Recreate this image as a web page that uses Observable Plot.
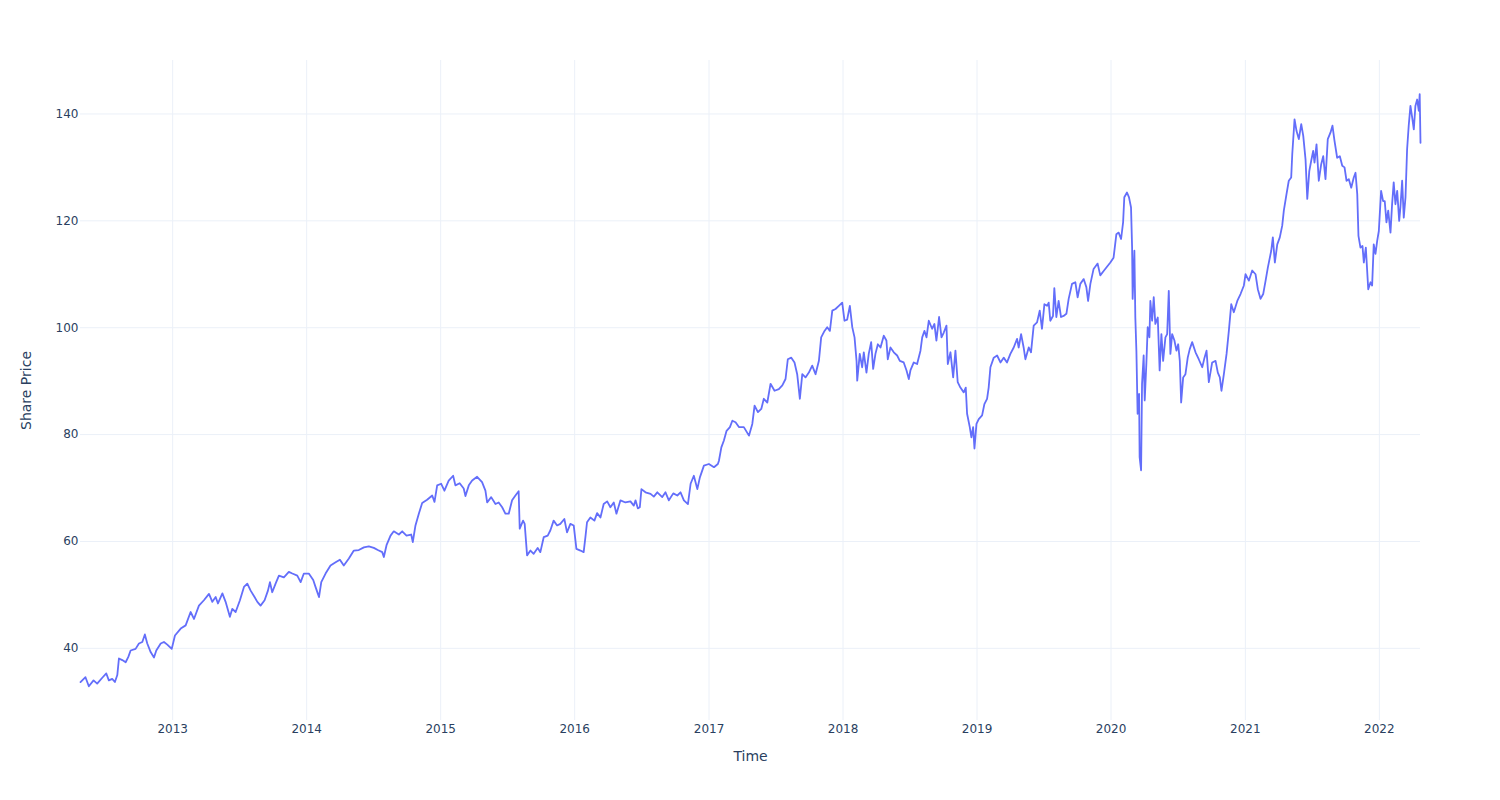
<!DOCTYPE html>
<html>
<head>
<meta charset="utf-8">
<script src="https://cdn.jsdelivr.net/npm/d3@7"></script>
<script src="https://cdn.jsdelivr.net/npm/@observablehq/plot@0.6"></script>
<style>
  html, body { margin: 0; padding: 0; background: #ffffff; }
  #chart { position: absolute; left: 0; top: 0; }
</style>
</head>
<body>
<div id="chart"></div>
<script>
// Time as decimal years
const times = [
  2012.314, 2012.351, 2012.376, 2012.411, 2012.438, 2012.476, 2012.506, 2012.525, 2012.550, 2012.570,
  2012.588, 2012.600, 2012.625, 2012.650, 2012.670, 2012.687, 2012.724, 2012.749, 2012.774, 2012.793,
  2012.811, 2012.836, 2012.861, 2012.878, 2012.911, 2012.935, 2012.960, 2012.993,
  2013.017, 2013.060, 2013.097, 2013.134, 2013.159, 2013.196, 2013.233, 2013.271, 2013.296, 2013.321,
  2013.338, 2013.371, 2013.395, 2013.427, 2013.445, 2013.470, 2013.502, 2013.532, 2013.557, 2013.582,
  2013.611, 2013.632, 2013.656, 2013.686, 2013.711, 2013.726, 2013.743, 2013.768, 2013.793, 2013.830,
  2013.867, 2013.893, 2013.930, 2013.955, 2013.979,
  2014.016, 2014.049, 2014.066, 2014.084, 2014.092, 2014.109, 2014.141, 2014.178, 2014.216, 2014.248,
  2014.277, 2014.315, 2014.352, 2014.389, 2014.427, 2014.464, 2014.501, 2014.531, 2014.564, 2014.576,
  2014.596, 2014.626, 2014.650, 2014.688, 2014.713, 2014.745, 2014.780, 2014.792, 2014.812, 2014.837,
  2014.862, 2014.899, 2014.937, 2014.954, 2014.974,
  2015.004, 2015.028, 2015.060, 2015.093, 2015.110, 2015.142, 2015.172, 2015.185, 2015.210, 2015.235,
  2015.272, 2015.309, 2015.334, 2015.347, 2015.377, 2015.409, 2015.433, 2015.459, 2015.483, 2015.508,
  2015.533, 2015.558, 2015.582, 2015.590, 2015.615, 2015.627, 2015.645, 2015.670, 2015.694, 2015.724,
  2015.744, 2015.769, 2015.799, 2015.819, 2015.843, 2015.869, 2015.893, 2015.923, 2015.943, 2015.968,
  2015.993,
  2016.013, 2016.043, 2016.067, 2016.080, 2016.092, 2016.117, 2016.147, 2016.167, 2016.192, 2016.216,
  2016.242, 2016.266, 2016.291, 2016.311, 2016.341, 2016.378, 2016.415, 2016.440, 2016.453, 2016.470,
  2016.485, 2016.497, 2016.527, 2016.565, 2016.589, 2016.615, 2016.652, 2016.676, 2016.701, 2016.734,
  2016.764, 2016.788, 2016.813, 2016.843, 2016.863, 2016.887, 2016.913, 2016.932, 2016.962, 2016.999,
  2017.037, 2017.066, 2017.074, 2017.092, 2017.111, 2017.131, 2017.156, 2017.174, 2017.198, 2017.223,
  2017.260, 2017.298, 2017.323, 2017.340, 2017.365, 2017.390, 2017.409, 2017.435, 2017.459, 2017.489,
  2017.521, 2017.547, 2017.571, 2017.588, 2017.614, 2017.638, 2017.658, 2017.678, 2017.696, 2017.720,
  2017.745, 2017.770, 2017.795, 2017.820, 2017.837, 2017.862, 2017.882, 2017.902, 2017.920, 2017.944,
  2017.969, 2017.994,
  2018.011, 2018.031, 2018.051, 2018.069, 2018.086, 2018.101, 2018.106, 2018.125, 2018.143, 2018.155,
  2018.175, 2018.192, 2018.210, 2018.225, 2018.242, 2018.260, 2018.280, 2018.304, 2018.324, 2018.334,
  2018.354, 2018.379, 2018.404, 2018.424, 2018.453, 2018.474, 2018.491, 2018.503, 2018.528, 2018.553,
  2018.578, 2018.591, 2018.608, 2018.623, 2018.640, 2018.665, 2018.682, 2018.697, 2018.717, 2018.735,
  2018.752, 2018.772, 2018.782, 2018.802, 2018.822, 2018.839, 2018.856, 2018.876, 2018.901, 2018.916,
  2018.926, 2018.946, 2018.958, 2018.971, 2018.981, 2018.996,
  2019.013, 2019.038, 2019.055, 2019.075, 2019.087, 2019.100, 2019.125, 2019.150, 2019.175, 2019.199,
  2019.224, 2019.249, 2019.274, 2019.299, 2019.311, 2019.329, 2019.348, 2019.361, 2019.386, 2019.403,
  2019.423, 2019.448, 2019.468, 2019.485, 2019.503, 2019.523, 2019.535, 2019.547, 2019.567, 2019.577,
  2019.592, 2019.609, 2019.627, 2019.646, 2019.667, 2019.684, 2019.709, 2019.734, 2019.751, 2019.771,
  2019.796, 2019.816, 2019.829, 2019.846, 2019.870, 2019.900, 2019.920, 2019.945, 2019.970, 2019.995,
  2020.019, 2020.040, 2020.057, 2020.075, 2020.090, 2020.099, 2020.119, 2020.134, 2020.149, 2020.157,
  2020.161, 2020.174, 2020.181, 2020.189, 2020.198, 2020.209, 2020.213, 2020.224, 2020.231, 2020.243,
  2020.251, 2020.263, 2020.273, 2020.286, 2020.293, 2020.306, 2020.318, 2020.330, 2020.348, 2020.362,
  2020.375, 2020.388, 2020.405, 2020.418, 2020.430, 2020.442, 2020.455, 2020.472, 2020.487, 2020.500,
  2020.512, 2020.522, 2020.537, 2020.554, 2020.571, 2020.586, 2020.604, 2020.629, 2020.653, 2020.679,
  2020.696, 2020.711, 2020.728, 2020.753, 2020.778, 2020.795, 2020.810, 2020.822, 2020.840, 2020.860,
  2020.877, 2020.895, 2020.914, 2020.940, 2020.964, 2020.989,
  2021.001, 2021.026, 2021.051, 2021.076, 2021.093, 2021.113, 2021.133, 2021.151, 2021.168, 2021.193,
  2021.205, 2021.220, 2021.238, 2021.257, 2021.275, 2021.287, 2021.307, 2021.324, 2021.342, 2021.350,
  2021.367, 2021.382, 2021.399, 2021.417, 2021.432, 2021.449, 2021.462, 2021.477, 2021.491, 2021.506,
  2021.516, 2021.531, 2021.548, 2021.566, 2021.581, 2021.598, 2021.615, 2021.635, 2021.650, 2021.665,
  2021.685, 2021.705, 2021.723, 2021.740, 2021.755, 2021.772, 2021.790, 2021.809, 2021.822, 2021.835,
  2021.844, 2021.859, 2021.874, 2021.884, 2021.899, 2021.917, 2021.934, 2021.946, 2021.958, 2021.971,
  2021.984, 2021.996,
  2022.013, 2022.028, 2022.040, 2022.053, 2022.066, 2022.083, 2022.095, 2022.107, 2022.120, 2022.133,
  2022.148, 2022.157, 2022.170, 2022.182, 2022.195, 2022.207, 2022.219, 2022.232, 2022.245, 2022.257,
  2022.269, 2022.282, 2022.294, 2022.301, 2022.307
];

// Share price values
const prices = [
  33.7, 34.6, 32.9, 34.0, 33.4, 34.5, 35.3, 34.0, 34.3, 33.7,
  35.0, 38.1, 37.8, 37.4, 38.4, 39.6, 39.9, 40.9, 41.2, 42.6,
  40.9, 39.3, 38.3, 39.6, 40.9, 41.2, 40.7, 39.9,
  42.4, 43.7, 44.3, 46.8, 45.5, 48.0, 49.0, 50.2, 48.7, 49.6,
  48.4, 50.3, 48.7, 45.9, 47.4, 46.8, 49.0, 51.5, 52.1, 50.8,
  49.6, 48.7, 48.0, 49.0, 50.8, 52.4, 50.5, 52.1, 53.6, 53.3,
  54.3, 54.0, 53.6, 52.4, 54.0,
  54.0, 52.8, 51.5, 50.2, 49.6, 52.4, 54.0, 55.5, 56.1, 56.6,
  55.5, 56.8, 58.3, 58.4, 58.9, 59.1, 58.8, 58.4, 58.0, 57.1,
  59.3, 61.1, 61.9, 61.3, 61.9, 61.1, 61.3, 59.9, 63.0, 65.2,
  67.2, 67.8, 68.6, 67.4, 70.5,
  70.8, 69.5, 71.4, 72.3, 70.5, 70.9, 69.9, 68.5, 70.5, 71.4,
  72.1, 71.1, 69.5, 67.3, 68.3, 67.0, 67.3, 66.4, 65.2, 65.2,
  67.7, 68.6, 69.4, 62.4, 63.9, 63.3, 57.4, 58.3, 57.7, 58.8,
  58.0, 60.8, 61.1, 62.1, 63.9, 63.0, 63.3, 64.2, 61.7, 63.3,
  63.0,
  58.6, 58.3, 58.0, 60.8, 63.6, 64.5, 63.9, 65.3, 64.5, 67.0,
  67.5, 66.4, 67.3, 65.2, 67.7, 67.3, 67.5, 66.7, 67.7, 66.2,
  66.4, 69.8, 69.2, 68.9, 68.4, 69.2, 68.3, 69.2, 67.7, 69.0,
  68.6, 69.2, 67.7, 67.0, 70.8, 72.3, 69.8, 72.0, 74.2, 74.5,
  73.9, 74.5, 75.1, 77.6, 78.9, 80.7, 81.4, 82.6, 82.3, 81.4,
  81.4, 79.8, 82.0, 85.4, 84.2, 84.8, 86.7, 86.0, 89.5, 88.2,
  88.5, 89.2, 90.4, 94.1, 94.4, 93.5, 91.3, 86.7, 91.3, 90.7,
  91.6, 92.9, 91.3, 93.8, 98.2, 99.4, 100.1, 99.4, 103.2, 103.5,
  104.1, 104.7,
  101.3, 101.5, 104.1, 100.1, 98.2, 93.8, 90.1, 95.1, 92.6, 95.4,
  91.6, 95.1, 97.3, 92.3, 95.1, 96.9, 96.3, 98.5, 97.6, 94.1,
  96.3, 95.4, 94.8, 93.8, 93.5, 92.0, 90.4, 92.0, 93.5, 93.2,
  95.7, 98.2, 99.4, 98.2, 101.3, 99.8, 100.7, 97.6, 102.0, 98.2,
  99.1, 100.4, 93.2, 95.4, 90.7, 95.7, 89.8, 88.8, 87.9, 88.8,
  83.9, 81.4, 79.5, 81.4, 77.4, 82.0,
  82.9, 83.6, 85.7, 86.7, 88.8, 92.6, 94.4, 94.8, 93.5, 94.4,
  93.5, 95.1, 96.3, 97.9, 96.3, 98.8, 96.3, 94.1, 96.3, 95.4,
  100.4, 101.0, 103.2, 99.8, 104.4, 104.1, 104.7, 101.3, 102.2, 107.4,
  102.0, 105.0, 102.0, 102.2, 102.6, 105.4, 108.2, 108.5, 105.7, 108.2,
  109.1, 107.6, 105.0, 108.2, 111.0, 112.0, 109.8, 110.6, 111.4, 112.2,
  113.1, 117.5, 117.8, 116.6, 119.7, 124.4, 125.3, 124.4, 122.5, 115.0,
  105.4, 114.4, 101.9, 95.7, 83.9, 87.6, 75.8, 73.3, 89.5, 94.8,
  86.4, 93.2, 100.1, 98.2, 105.0, 101.3, 105.7, 100.7, 101.9, 92.0,
  98.8, 93.8, 98.2, 98.8, 106.9, 95.1, 98.8, 97.6, 95.7, 96.9,
  93.8, 86.0, 90.7, 91.3, 94.4, 96.0, 97.3, 95.4, 94.1, 92.6,
  94.4, 95.7, 89.8, 93.5, 93.8, 91.6, 90.7, 88.2, 91.3, 95.1,
  99.4, 104.4, 102.9, 105.0, 106.3, 107.9,
  110.0, 108.8, 110.7, 110.0, 107.2, 105.4, 106.3, 108.8, 111.3, 114.4,
  116.9, 112.2, 115.6, 116.9, 119.1, 121.9, 125.0, 127.5, 128.1, 132.5,
  139.0, 136.8, 135.3, 138.1, 135.9, 131.5, 124.1, 129.3, 131.2, 133.1,
  130.9, 134.3, 127.5, 130.6, 132.1, 127.8, 135.3, 136.5, 137.8, 135.0,
  131.8, 132.1, 130.3, 130.0, 127.5, 127.8, 126.2, 128.1, 129.0, 125.0,
  117.2, 115.0, 115.3, 112.2, 115.0, 107.2, 108.5, 107.9, 115.6, 113.8,
  116.3, 118.1,
  125.6, 123.7, 123.7, 119.7, 121.9, 117.8, 123.1, 127.2, 123.1, 125.6,
  120.0, 122.5, 127.5, 120.6, 124.4, 133.4, 137.8, 141.5, 139.3, 137.1,
  141.5, 142.7, 140.6, 143.7, 134.6
];

const yTicks = [40, 60, 80, 100, 120, 140];
const yDomain = [26.5, 150];
const xTitle = "Time";
const yTitle = "Share Price";

function fromDecimalYear(t) {
  const y = Math.floor(t);
  const s = Date.UTC(y, 0, 1), e = Date.UTC(y + 1, 0, 1);
  return new Date(s + (t - y) * (e - s));
}

const data = times.map((t, i) => ({ date: fromDecimalYear(t), price: prices[i] }));

const gridColor = "#EBF0F8";
const textColor = "#2a3f5f";

const chart = Plot.plot({
  width: 1500,
  height: 800,
  marginLeft: 80,
  marginRight: 80,
  marginTop: 60,
  marginBottom: 80,
  style: { fontFamily: "'DejaVu Sans', sans-serif", fontSize: "12px", color: textColor, background: "#ffffff" },
  x: { type: "utc", domain: d3.extent(data, d => d.date) },
  y: { domain: yDomain },
  marks: [
    Plot.gridX({ ticks: d3.utcYear, stroke: gridColor, strokeOpacity: 1, strokeWidth: 1 }),
    Plot.gridY(yTicks, { stroke: gridColor, strokeOpacity: 1, strokeWidth: 1 }),
    Plot.axisX({ ticks: d3.utcYear, tickFormat: "%Y", tickSize: 0, tickPadding: 4,
      label: xTitle, labelAnchor: "center", labelArrow: "none", labelOffset: 40,
      fontSize: 12, fill: textColor }),
    Plot.axisY(yTicks, { tickSize: 0, tickPadding: 2,
      label: yTitle, labelAnchor: "center", labelArrow: "none", labelOffset: 59,
      fontSize: 12, fill: textColor }),
    Plot.line(data, { x: "date", y: "price", stroke: "#636efa", strokeWidth: 1.8, curve: "linear" })
  ]
});

// axis titles larger like the reference
chart.querySelectorAll("[aria-label='x-axis label'] text, [aria-label='y-axis label'] text").forEach(t => {
  t.setAttribute("font-size", "14");
});
document.getElementById("chart").appendChild(chart);
</script>
</body>
</html>
